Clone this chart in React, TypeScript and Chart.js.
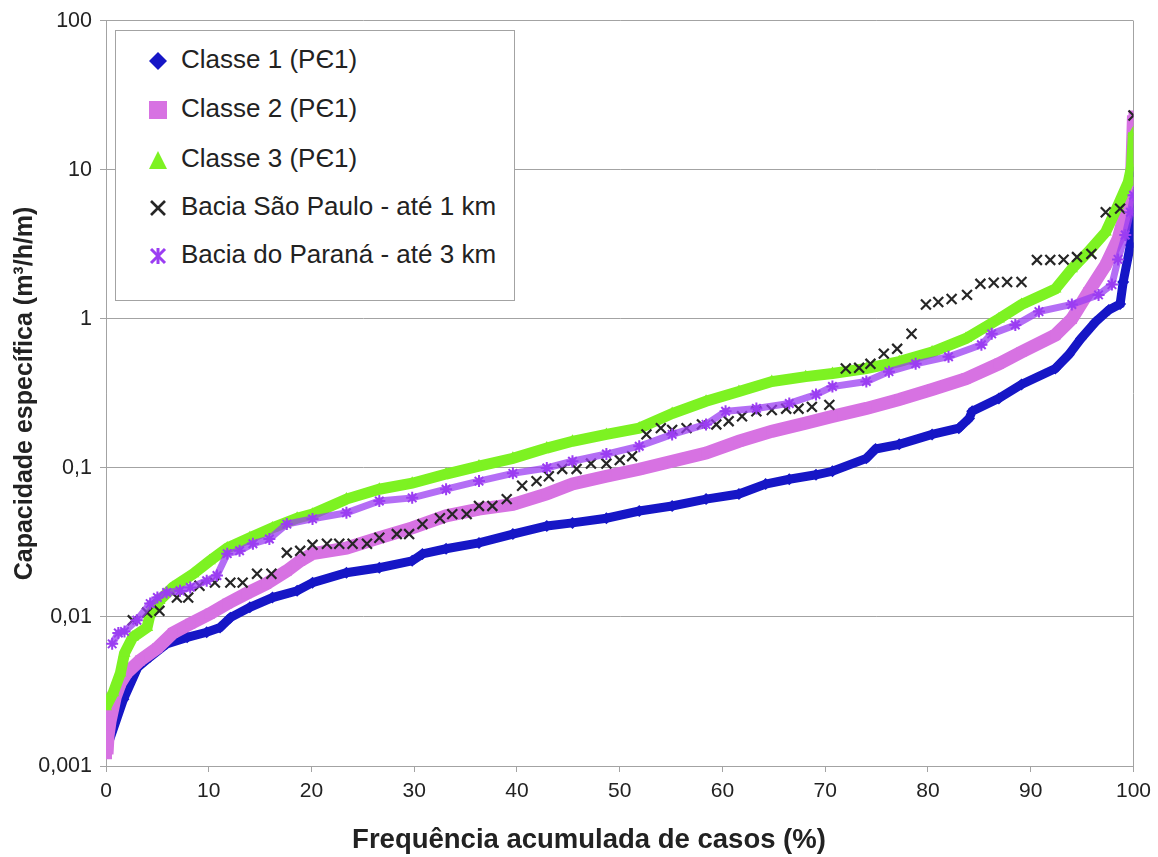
import React, { useEffect, useRef } from "react";
import { Chart, registerables } from "chart.js";

Chart.register(...registerables);

const FONT = "'Liberation Sans', Arial, sans-serif";
const GRID = "#a3a3a3";
const TEXT = "#222222";

const yTickValues = [0.001, 0.01, 0.1, 1, 10, 100];
const yTickLabels = ["0,001", "0,01", "0,1", "1", "10", "100"];

const classe1X = [0.2, 1.7, 3.1, 4.3, 5.9, 7.9, 9.8, 11.1, 12.1, 14.0, 16.2, 18.6, 20.1, 23.4, 26.6, 29.8, 30.8, 33.1, 36.3, 39.6, 42.9, 45.4, 48.7, 51.9, 55.1, 58.4, 61.6, 64.2, 66.5, 69.1, 70.7, 74.0, 74.9, 77.2, 80.4, 83.0, 84.0, 84.3, 86.9, 89.1, 92.4, 93.7, 94.9, 96.3, 97.6, 98.7, 99.0, 99.7, 100];
const classe1Y = [0.0014, 0.0028, 0.0046, 0.0054, 0.0066, 0.0073, 0.0079, 0.0085, 0.0099, 0.0116, 0.0135, 0.015, 0.017, 0.0198, 0.0214, 0.0238, 0.0265, 0.0287, 0.0314, 0.036, 0.0408, 0.0428, 0.046, 0.0514, 0.0556, 0.0618, 0.0668, 0.078, 0.084, 0.09, 0.095, 0.116, 0.134, 0.144, 0.168, 0.185, 0.215, 0.24, 0.293, 0.363, 0.465, 0.575, 0.74, 0.955, 1.15, 1.26, 1.77, 3.13, 9.6];

const classe2X = [0.1, 0.2, 0.4, 0.9, 1.4, 2.0, 3.3, 5.0, 6.5, 8.2, 10.1, 11.8, 13.7, 15.6, 17.6, 18.9, 20.1, 23.4, 26.6, 29.8, 33.1, 36.3, 39.6, 42.9, 45.4, 48.7, 51.9, 55.1, 58.4, 61.6, 64.8, 68.1, 70.7, 74.0, 77.2, 80.4, 83.7, 86.9, 89.1, 92.4, 94.0, 95.6, 97.3, 98.5, 99.2, 99.8, 100];
const classe2Y = [0.0012, 0.0016, 0.002, 0.0029, 0.0036, 0.0042, 0.0051, 0.0062, 0.0078, 0.009, 0.0105, 0.0123, 0.0144, 0.0167, 0.0204, 0.0238, 0.0266, 0.029, 0.034, 0.0396, 0.0477, 0.053, 0.057, 0.067, 0.078, 0.088, 0.098, 0.111, 0.126, 0.151, 0.176, 0.2, 0.222, 0.251, 0.288, 0.336, 0.398, 0.5, 0.6, 0.78, 1.0, 1.51, 2.3, 3.43, 5.2, 8.3, 23.2];

const classe3X = [0, 0.7, 1.4, 1.8, 2.6, 4.0, 4.3, 5.2, 6.5, 8.5, 10.1, 11.8, 14.0, 16.2, 18.6, 20.1, 23.4, 26.6, 29.8, 33.1, 36.3, 39.6, 42.9, 45.4, 48.7, 51.9, 55.1, 58.4, 61.6, 64.8, 68.1, 70.7, 74.0, 77.2, 80.4, 83.7, 86.9, 89.1, 92.4, 94.0, 95.6, 97.3, 98.5, 99.5, 99.8, 100];
const classe3Y = [0.0025, 0.0031, 0.0042, 0.0057, 0.0073, 0.0085, 0.0105, 0.0129, 0.0158, 0.0195, 0.0238, 0.029, 0.034, 0.0396, 0.046, 0.049, 0.0618, 0.072, 0.079, 0.091, 0.103, 0.116, 0.136, 0.151, 0.168, 0.185, 0.232, 0.28, 0.326, 0.38, 0.41, 0.43, 0.465, 0.517, 0.6, 0.74, 1.0, 1.25, 1.59, 2.17, 2.82, 3.83, 5.8, 8.3, 10.4, 17.8];

const saoPauloX = [2.6, 4.0, 5.2, 6.9, 8.0, 9.1, 10.6, 12.1, 13.3, 14.7, 16.1, 17.6, 18.9, 20.1, 21.5, 22.7, 24.0, 25.4, 26.6, 28.3, 29.5, 30.8, 32.5, 33.7, 35.1, 36.3, 37.6, 39.0, 40.5, 41.9, 43.1, 44.4, 45.8, 47.2, 48.7, 50.0, 51.2, 52.6, 54.0, 55.1, 56.5, 58.0, 59.4, 60.6, 61.9, 63.3, 64.8, 66.2, 67.4, 68.7, 70.4, 72.0, 73.3, 74.4, 75.7, 77.0, 78.4, 79.8, 81.0, 82.3, 83.8, 85.1, 86.4, 87.7, 89.1, 90.6, 91.9, 93.2, 94.5, 95.9, 97.3, 98.7, 100];
const saoPauloY = [0.0095, 0.0107, 0.011, 0.0135, 0.0135, 0.0162, 0.017, 0.017, 0.017, 0.0195, 0.0195, 0.027, 0.0278, 0.0305, 0.031, 0.031, 0.031, 0.031, 0.034, 0.036, 0.036, 0.042, 0.046, 0.049, 0.049, 0.0556, 0.0556, 0.0618, 0.076, 0.0816, 0.088, 0.0985, 0.0985, 0.107, 0.107, 0.113, 0.12, 0.168, 0.185, 0.18, 0.185, 0.196, 0.196, 0.206, 0.222, 0.24, 0.245, 0.25, 0.25, 0.257, 0.265, 0.465, 0.47, 0.5, 0.585, 0.63, 0.795, 1.25, 1.3, 1.36, 1.45, 1.72, 1.75, 1.77, 1.77, 2.49, 2.49, 2.5, 2.6, 2.73, 5.2, 5.5, 23.2];

const paranaX = [0.6, 1.2, 1.8, 3.0, 4.3, 5.0, 5.9, 7.2, 8.2, 9.8, 10.8, 11.8, 13.0, 14.3, 15.9, 17.6, 20.1, 23.4, 26.6, 29.8, 33.1, 36.3, 39.6, 42.9, 45.4, 48.7, 51.9, 55.1, 58.4, 60.3, 63.3, 66.5, 69.1, 70.7, 74.0, 76.2, 78.8, 82.0, 85.2, 86.2, 88.5, 90.8, 94.0, 96.6, 97.9, 98.5, 99.2, 99.7, 100];
const paranaY = [0.0066, 0.0078, 0.008, 0.0095, 0.0123, 0.0135, 0.0146, 0.015, 0.0158, 0.0175, 0.019, 0.0266, 0.0278, 0.031, 0.0334, 0.042, 0.0455, 0.05, 0.06, 0.063, 0.072, 0.0816, 0.092, 0.1, 0.111, 0.124, 0.14, 0.168, 0.196, 0.24, 0.251, 0.271, 0.311, 0.352, 0.38, 0.443, 0.5, 0.558, 0.671, 0.794, 0.91, 1.12, 1.25, 1.45, 1.7, 2.51, 3.66, 5.2, 6.76];

const seriesNames = [
  "Classe 1 (PЄ1)",
  "Classe 2 (PЄ1)",
  "Classe 3 (PЄ1)",
  "Bacia São Paulo - até 1 km",
  "Bacia do Paraná - até 3 km",
];
const xTitle = "Frequência acumulada de casos (%)";
const yTitle = "Capacidade específica (m³/h/m)";

const BLUE = "#1616c6";
const PINK = "#d772e2";
const GREEN = "#7df222";
const BLACK = "#262626";
const PURPLE = "#9b3df2";

const pts = (xs: number[], ys: number[]) => xs.map((x, i) => ({ x, y: ys[i] }));

function LegendMarker({ kind }: { kind: number }) {
  const s = 22;
  if (kind === 0)
    return (
      <svg width={s} height={s}>
        <polygon points="11,2 20,11 11,20 2,11" fill={BLUE} />
      </svg>
    );
  if (kind === 1)
    return (
      <svg width={s} height={s}>
        <rect x="2" y="2" width="18" height="18" fill={PINK} />
      </svg>
    );
  if (kind === 2)
    return (
      <svg width={s} height={s}>
        <polygon points="11,2 20,20 2,20" fill={GREEN} />
      </svg>
    );
  if (kind === 3)
    return (
      <svg width={s} height={s}>
        <line x1="4" y1="4" x2="18" y2="18" stroke={BLACK} strokeWidth="2.6" />
        <line x1="18" y1="4" x2="4" y2="18" stroke={BLACK} strokeWidth="2.6" />
      </svg>
    );
  return (
    <svg width={s} height={s}>
      <line x1="4" y1="4" x2="18" y2="18" stroke={PURPLE} strokeWidth="3" />
      <line x1="18" y1="4" x2="4" y2="18" stroke={PURPLE} strokeWidth="3" />
      <line x1="11" y1="3" x2="11" y2="19" stroke={PURPLE} strokeWidth="3" />
    </svg>
  );
}

export default function App() {
  const canvasRef = useRef<HTMLCanvasElement | null>(null);

  useEffect(() => {
    document.body.style.margin = "0";
    const canvas = canvasRef.current;
    if (!canvas) return;
    const chart = new Chart(canvas, {
      type: "scatter",
      data: {
        datasets: [
          {
            label: seriesNames[0],
            data: pts(classe1X, classe1Y),
            showLine: true,
            borderColor: BLUE,
            borderWidth: 9,
            backgroundColor: BLUE,
            pointStyle: "rectRot",
            pointRadius: 6,
            pointBorderWidth: 0,
            pointBackgroundColor: BLUE,
            order: 5,
          },
          {
            label: seriesNames[1],
            data: pts(classe2X, classe2Y),
            showLine: true,
            borderColor: PINK,
            borderWidth: 13,
            backgroundColor: PINK,
            pointStyle: "rect",
            pointRadius: 7,
            pointBorderWidth: 0,
            pointBackgroundColor: PINK,
            order: 4,
          },
          {
            label: seriesNames[2],
            data: pts(classe3X, classe3Y),
            showLine: true,
            borderColor: GREEN,
            borderWidth: 11,
            backgroundColor: GREEN,
            pointStyle: "triangle",
            pointRadius: 7,
            pointBorderWidth: 0,
            pointBackgroundColor: GREEN,
            order: 3,
          },
          {
            label: seriesNames[3],
            data: pts(saoPauloX, saoPauloY),
            showLine: false,
            borderColor: BLACK,
            backgroundColor: BLACK,
            pointStyle: "crossRot",
            pointRadius: 7,
            pointBorderWidth: 2.2,
            pointBorderColor: BLACK,
            order: 2,
          },
          {
            label: seriesNames[4],
            data: pts(paranaX, paranaY),
            showLine: true,
            borderColor: "rgba(155,61,242,0.75)",
            borderWidth: 7,
            backgroundColor: PURPLE,
            pointStyle: "star",
            pointRadius: 6,
            pointBorderWidth: 2,
            pointBorderColor: PURPLE,
            order: 1,
          },
        ],
      },
      options: {
        responsive: false,
        animation: false,
        devicePixelRatio: 1,
        layout: { padding: { top: 18, right: 23, left: 0, bottom: 0 } },
        plugins: { legend: { display: false }, tooltip: { enabled: false } },
        scales: {
          x: {
            type: "linear",
            min: 0,
            max: 100,
            ticks: {
              stepSize: 10,
              color: TEXT,
              padding: 7,
              font: { family: FONT, size: 21 },
            },
            grid: {
              color: (ctx: any) =>
                ctx.tick && (ctx.tick.value === 0 || ctx.tick.value === 100) ? GRID : "rgba(0,0,0,0)",
              tickColor: GRID,
              tickLength: 6,
            },
            border: { color: GRID },
            title: { display: false },
            afterFit: (s: any) => {
              s.height = 91;
            },
          },
          y: {
            type: "logarithmic",
            min: 0.001,
            max: 100,
            afterBuildTicks: (s: any) => {
              s.ticks = yTickValues.map((v) => ({ value: v }));
            },
            ticks: {
              autoSkip: false,
              color: TEXT,
              padding: 8,
              font: { family: FONT, size: 21.5 },
              callback: (v: any) => {
                const i = yTickValues.findIndex((t) => Math.abs(t - Number(v)) < t * 1e-6);
                return i >= 0 ? yTickLabels[i] : "";
              },
            },
            grid: { color: GRID, tickColor: GRID, tickLength: 6 },
            border: { color: GRID },
            title: {
              display: true,
              text: yTitle,
              color: TEXT,
              font: { family: FONT, size: 25, weight: "bold" },
              padding: { top: 10, bottom: 0 },
            },
            afterFit: (s: any) => {
              s.width = 106;
            },
          },
        },
      },
    });
    return () => chart.destroy();
  }, []);

  const rowCenters = [28, 77, 127, 175, 223];

  return (
    <div style={{ position: "relative", width: 1158, height: 857, background: "#fff" }}>
      <canvas ref={canvasRef} width={1158} height={857} style={{ width: 1158, height: 857, display: "block" }} />
      <div
        style={{
          position: "absolute",
          left: 289,
          width: 600,
          top: 822,
          height: 34,
          lineHeight: "34px",
          textAlign: "center",
          fontFamily: FONT,
          fontWeight: "bold",
          fontSize: 27.5,
          color: TEXT,
          whiteSpace: "nowrap",
        }}
      >
        {xTitle}
      </div>
      <div
        style={{
          position: "absolute",
          left: 115,
          top: 30,
          width: 400,
          height: 271,
          border: `1px solid ${GRID}`,
          background: "#fff",
          boxSizing: "border-box",
          fontFamily: FONT,
          fontSize: 26,
          color: TEXT,
        }}
      >
        {seriesNames.map((name, i) => (
          <div
            key={name}
            style={{
              position: "absolute",
              left: 0,
              top: rowCenters[i] - 16,
              height: 32,
              display: "flex",
              alignItems: "center",
              whiteSpace: "nowrap",
            }}
          >
            <div style={{ width: 22, height: 22, marginLeft: 31, marginRight: 12 }}>
              <LegendMarker kind={i} />
            </div>
            <span>{name}</span>
          </div>
        ))}
      </div>
    </div>
  );
}
